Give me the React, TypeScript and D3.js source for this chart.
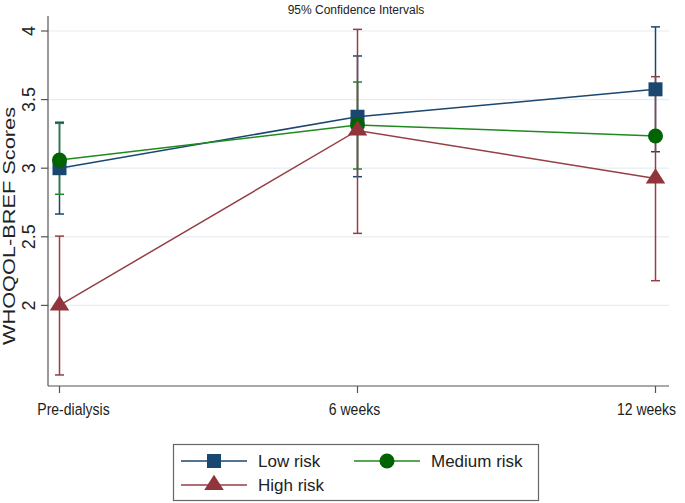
import React from "react";
import * as d3 from "d3";

const timepoints = ["Pre-dialysis", "6 weeks", "12 weeks"];
const yTicks = [2, 2.5, 3, 3.5, 4];
const seriesNames = ["Low risk", "Medium risk", "High risk"];

const lowMean = [3.0, 3.375, 3.575];
const lowLower = [2.666, 2.938, 3.12];
const lowUpper = [3.335, 3.818, 4.03];

const medMean = [3.06, 3.315, 3.235];
const medLower: (number | null)[] = [2.81, 2.994, null];
const medUpper: (number | null)[] = [3.327, 3.628, null];

const highMean = [2.0, 3.275, 2.925];
const highLower = [1.493, 2.525, 2.18];
const highUpper = [2.505, 4.012, 3.667];

const FONT = "'Liberation Sans', Arial, Helvetica, sans-serif";

export default function App() {
  const W = 685, H = 503;
  const plotL = 48, plotR = 669, plotT = 16, plotB = 386;
  const x = d3.scalePoint<string>().domain(timepoints).range([59.5, 655.5]);
  const y = d3.scaleLinear().domain([2, 4]).range([305.4, 31]);
  const labelShift = [14, -3, -9];

  const series = [
    { name: seriesNames[0], mean: lowMean, lo: lowLower, hi: lowUpper, line: "#1a476f", fill: "#1a476f", shape: "square" },
    { name: seriesNames[1], mean: medMean, lo: medLower, hi: medUpper, line: "#1f8a1f", fill: "#006400", shape: "circle" },
    { name: seriesNames[2], mean: highMean, lo: highLower, hi: highUpper, line: "#953e45", fill: "#90353b", shape: "triangle" },
  ];

  const lineGen = d3.line<number>().x((_, i) => x(timepoints[i])!).y((d) => y(d));

  const marker = (shape: string, cx: number, cy: number, fill: string, key?: string) => {
    if (shape === "square") return <rect key={key} x={cx - 7} y={cy - 7} width={14} height={14} fill={fill} />;
    if (shape === "circle") return <circle key={key} cx={cx} cy={cy} r={7.5} fill={fill} />;
    const p = d3.symbol(d3.symbolTriangle, 150)()!;
    return <path key={key} d={p} transform={`translate(${cx},${cy}) scale(1.05,0.95)`} fill={fill} />;
  };

  return (
    <svg width={W} height={H} style={{ position: "absolute", left: 0, top: 0, background: "#fff" }} fontFamily={FONT}>
      <rect x={0} y={0} width={W} height={H} fill="#fff" />
      {yTicks.map((t) => (
        <line key={"g" + t} x1={plotL} x2={plotR} y1={y(t)} y2={y(t)} stroke="#e6eef1" strokeWidth={1.2} />
      ))}
      <line x1={plotL} x2={plotL} y1={plotT} y2={plotB} stroke="#555" strokeWidth={1.2} />
      <line x1={plotL} x2={plotR} y1={plotB} y2={plotB} stroke="#555" strokeWidth={1.2} />
      {yTicks.map((t) => (
        <g key={"yt" + t}>
          <line x1={plotL - 7} x2={plotL} y1={y(t)} y2={y(t)} stroke="#555" strokeWidth={1.2} />
          <text transform={`translate(34.5,${y(t)}) rotate(-90)`} textAnchor="middle" fontSize={18} fill="#222">
            {String(t)}
          </text>
        </g>
      ))}
      {timepoints.map((tp, i) => (
        <g key={"xt" + tp}>
          <line x1={x(tp)} x2={x(tp)} y1={plotB} y2={plotB + 7} stroke="#555" strokeWidth={1.2} />
          <text transform={`translate(${x(tp)! + labelShift[i]},415) scale(0.85,1)`} textAnchor="middle" fontSize={16.5} fill="#222">
            {tp}
          </text>
        </g>
      ))}
      <text transform={`translate(15,226) rotate(-90) scale(1.28,1)`} textAnchor="middle" fontSize={17} fill="#222">
        WHOQOL-BREF Scores
      </text>
      <text x={356} y={14} textAnchor="middle" fontSize={12} fill="#222">
        95% Confidence Intervals
      </text>
      {series.map((s) =>
        timepoints.map((tp, i) => {
          const lo = s.lo[i], hi = s.hi[i];
          if (lo == null || hi == null) return null;
          const cx = x(tp)!;
          return (
            <g key={s.name + tp} stroke={s.line} strokeWidth={1.5}>
              <line x1={cx} x2={cx} y1={y(lo)} y2={y(hi)} />
              <line x1={cx - 4.5} x2={cx + 4.5} y1={y(lo)} y2={y(lo)} />
              <line x1={cx - 4.5} x2={cx + 4.5} y1={y(hi)} y2={y(hi)} />
            </g>
          );
        })
      )}
      {series.map((s) => (
        <g key={"l" + s.name}>
          <path d={lineGen(s.mean)!} fill="none" stroke={s.line} strokeWidth={1.5} />
          {s.mean.map((v, i) => marker(s.shape, x(timepoints[i])!, y(v), s.fill, s.name + i))}
        </g>
      ))}
      <rect x={173.5} y={444.5} width={365} height={56} fill="#fff" stroke="#666" strokeWidth={1.2} />
      {[
        { s: series[0], lx: 181, ty: 461 },
        { s: series[1], lx: 354, ty: 461 },
        { s: series[2], lx: 181, ty: 485 },
      ].map(({ s, lx, ty }) => (
        <g key={"lg" + s.name}>
          <line x1={lx} x2={lx + 66} y1={ty} y2={ty} stroke={s.line} strokeWidth={1.5} />
          {marker(s.shape, lx + 33, ty, s.fill)}
          <text x={lx + 77} y={ty + 6} fontSize={17} fill="#222">
            {s.name}
          </text>
        </g>
      ))}
    </svg>
  );
}
